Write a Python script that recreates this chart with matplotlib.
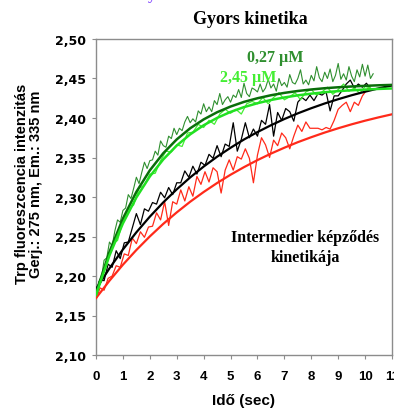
import numpy as np
import matplotlib
matplotlib.use("Agg")
import matplotlib.pyplot as plt

# ---------------- data ----------------
title = "Gyors kinetika"
x_label = "Idő (sec)"
y_label = "Trp fluoreszcencia intenzitás\nGerj.: 275 nm, Em.: 335 nm"
label_027 = "0,27 µM"
label_245 = "2,45 µM"
note = "Intermedier képződés\nkinetikája"

x_ticks = list(range(0, 12))
y_ticks = [2.10, 2.15, 2.20, 2.25, 2.30, 2.35, 2.40, 2.45, 2.50]
y_tick_labels = ["2,10", "2,15", "2,20", "2,25", "2,30", "2,35", "2,40", "2,45", "2,50"]

# fitted curves, sampled every 0.5 s
fit_t = [0, 0.5, 1, 1.5, 2, 2.5, 3, 3.5, 4, 4.5, 5, 5.5, 6, 6.5, 7, 7.5, 8, 8.5,
         9, 9.5, 10, 10.5, 11]
fit_dark_green = [2.178, 2.2305, 2.2727, 2.3065, 2.3337, 2.3554, 2.3729, 2.3870,
                  2.3982, 2.4073, 2.4145, 2.4204, 2.4250, 2.4288, 2.4318, 2.4342,
                  2.4361, 2.4377, 2.4389, 2.4399, 2.4407, 2.4414, 2.4419]
fit_light_green = [2.176, 2.2260, 2.2666, 2.2994, 2.3260, 2.3476, 2.3651, 2.3793,
                   2.3908, 2.4001, 2.4077, 2.4138, 2.4187, 2.4228, 2.4260, 2.4287,
                   2.4308, 2.4326, 2.4340, 2.4351, 2.4360, 2.4368, 2.4374]
fit_black = [2.1835, 2.2097, 2.2336, 2.2553, 2.2751, 2.2932, 2.3097, 2.3248,
             2.3385, 2.3510, 2.3623, 2.3728, 2.3822, 2.3908, 2.3987, 2.4059,
             2.4124, 2.4184, 2.4238, 2.4288, 2.4333, 2.4375, 2.4412]
fit_red = [2.172, 2.1940, 2.2143, 2.2329, 2.2501, 2.2660, 2.2805, 2.2940,
           2.3063, 2.3177, 2.3282, 2.3378, 2.3467, 2.3549, 2.3624, 2.3694,
           2.3757, 2.3816, 2.3870, 2.3920, 2.3966, 2.4008, 2.4047]

# measured traces
# 0.27 uM (dark green), every 0.1 s from 0 to 10.3 s
trace_dark_green = [
    2.172, 2.193, 2.197, 2.220, 2.223, 2.243, 2.238, 2.257, 2.271, 2.268,
    2.283, 2.286, 2.303, 2.298, 2.311, 2.325, 2.317, 2.331, 2.344, 2.336,
    2.346, 2.347, 2.358, 2.353, 2.371, 2.365, 2.363, 2.377, 2.374, 2.387,
    2.379, 2.387, 2.384, 2.395, 2.402, 2.394, 2.399, 2.395, 2.409, 2.405,
    2.418, 2.408, 2.414, 2.408, 2.422, 2.417, 2.431, 2.417, 2.423, 2.427,
    2.420, 2.429, 2.426, 2.436, 2.426, 2.444, 2.431, 2.427, 2.438, 2.436,
    2.433, 2.443, 2.433, 2.438, 2.449, 2.438, 2.443, 2.434, 2.450, 2.441,
    2.445, 2.439, 2.455, 2.445, 2.443, 2.450, 2.461, 2.443, 2.448, 2.442,
    2.454, 2.447, 2.465, 2.451, 2.446, 2.458, 2.450, 2.462, 2.446, 2.454,
    2.469, 2.449, 2.456, 2.448, 2.465, 2.453, 2.446, 2.461, 2.452, 2.468,
    2.453, 2.467, 2.450, 2.456]
# 2.45 uM (light green), every 0.2 s from 0 to 10.2 s
trace_light_green = [
    2.172, 2.200, 2.215, 2.240, 2.245, 2.269, 2.284, 2.290, 2.311, 2.315,
    2.329, 2.330, 2.346, 2.358, 2.357, 2.366, 2.364, 2.381, 2.382, 2.392,
    2.388, 2.397, 2.392, 2.405, 2.411, 2.406, 2.411, 2.405, 2.418, 2.421,
    2.418, 2.426, 2.418, 2.426, 2.432, 2.423, 2.427, 2.432, 2.423, 2.433,
    2.436, 2.429, 2.433, 2.439, 2.430, 2.436, 2.443, 2.434, 2.438, 2.431,
    2.440, 2.438]
# black trace, every 0.15 s from 0 to 10.2 s
trace_black = [
    2.176, 2.196, 2.194, 2.215, 2.211, 2.232, 2.222, 2.242, 2.243, 2.261,
    2.279, 2.265, 2.285, 2.282, 2.293, 2.291, 2.306, 2.299, 2.312, 2.303,
    2.318, 2.318, 2.333, 2.325, 2.339, 2.329, 2.344, 2.340, 2.354, 2.349,
    2.365, 2.351, 2.367, 2.364, 2.394, 2.358, 2.373, 2.394, 2.375, 2.386,
    2.377, 2.397, 2.392, 2.417, 2.377, 2.407, 2.397, 2.412, 2.408, 2.396,
    2.420, 2.426, 2.422, 2.429, 2.422, 2.431, 2.429, 2.433, 2.409, 2.428,
    2.428, 2.435, 2.443, 2.448, 2.438, 2.443, 2.439, 2.444, 2.437]
# red trace, every 0.15 s from 0 to 10.2 s
trace_red = [
    2.170, 2.185, 2.182, 2.197, 2.200, 2.213, 2.211, 2.228, 2.226, 2.248,
    2.241, 2.256, 2.249, 2.262, 2.263, 2.280, 2.271, 2.294, 2.264, 2.294,
    2.291, 2.309, 2.295, 2.313, 2.301, 2.326, 2.316, 2.332, 2.319, 2.337,
    2.332, 2.305, 2.334, 2.347, 2.334, 2.351, 2.348, 2.361, 2.349, 2.318,
    2.353, 2.375, 2.366, 2.350, 2.372, 2.365, 2.381, 2.375, 2.361, 2.377,
    2.391, 2.383, 2.395, 2.387, 2.387, 2.387, 2.385, 2.388, 2.386, 2.397,
    2.411, 2.416, 2.420, 2.408, 2.420, 2.416, 2.428, 2.435, 2.441]

t_dark_green = np.round(np.arange(len(trace_dark_green)) * 0.1, 3)
t_light_green = np.round(np.arange(len(trace_light_green)) * 0.2, 3)
t_black = np.round(np.arange(len(trace_black)) * 0.15, 3)
t_red = np.round(np.arange(len(trace_red)) * 0.15, 3)

# ---------------- styles ----------------
C_DG_TRACE = "#2f8f2f"
C_DG_FIT = "#0a6e0a"
C_LG = "#22e022"
C_LG_TRACE = "#44ee33"
C_RED = "#ff2a1a"
C_SPINE = "#8c8c8c"
SANS = ["Liberation Sans", "DejaVu Sans"]
WIDE = ["DejaVu Sans"]
SERIF = ["Liberation Serif", "DejaVu Serif"]

fig = plt.figure(figsize=(3.94, 4.10), dpi=100)
ax = fig.add_axes([96 / 394, 54 / 410, 296 / 394, 316 / 410])

ax.plot(t_red, trace_red, color=C_RED, lw=0.9, zorder=2)
ax.plot(t_black, trace_black, color="black", lw=0.9, zorder=2)
ax.plot(t_dark_green, trace_dark_green, color=C_DG_TRACE, lw=0.8, zorder=3)
ax.plot(t_light_green, trace_light_green, color=C_LG_TRACE, lw=0.9, zorder=3)

ax.plot(fit_t, fit_red, color=C_RED, lw=1.6, zorder=4)
ax.plot(fit_t, fit_black, color="black", lw=1.6, zorder=4)
ax.plot(fit_t, fit_dark_green, color=C_DG_FIT, lw=1.8, zorder=5)
ax.plot(fit_t, fit_light_green, color=C_LG, lw=1.8, zorder=5)

ax.set_xlim(0, 11)
ax.set_ylim(2.10, 2.50)
ax.set_xticks(x_ticks)
ax.set_xticklabels([str(v) for v in x_ticks], fontfamily=SANS, fontweight="bold", fontsize=9.5)
ax.set_yticks(y_ticks)
ax.set_yticklabels(y_tick_labels, fontfamily=WIDE, fontweight="bold", fontsize=9)
ax.tick_params(axis="both", direction="out", length=3, width=0.8, color=C_SPINE)
ax.tick_params(axis="x", pad=8)
ax.tick_params(axis="y", pad=4)
for s in ax.spines.values():
    s.set_color(C_SPINE)
    s.set_linewidth(1.0)
for lbl in ax.get_xticklabels():
    lbl.set_clip_on(False)

fig.text(250 / 394, 1 - 20 / 410, title, ha="center", va="center",
         fontfamily=SERIF, fontweight="bold", fontsize=13)
fig.text(152 / 394, 1.0, "y", ha="center", va="baseline", color="#7a3cff",
         fontfamily=SERIF, fontweight="bold", fontsize=11)
ax.text(6.67, 2.477, label_027, ha="center", va="center", color=C_DG_TRACE,
        fontfamily=SERIF, fontweight="bold", fontsize=11.5)
ax.text(5.67, 2.452, label_245, ha="center", va="center", color=C_LG_TRACE,
        fontfamily=SERIF, fontweight="bold", fontsize=11.5)
ax.text(7.77, 2.2367, note, ha="center", va="center", color="black",
        fontfamily=SERIF, fontweight="bold", fontsize=11.5, linespacing=1.3)

fig.text(244 / 394, 8.5 / 410, x_label, ha="center", va="center",
         fontfamily=SANS, fontweight="bold", fontsize=11)
fig.text(29 / 394, 1 - 184 / 410, y_label, ha="center", va="center", rotation=90,
         fontfamily=SANS, fontweight="bold", fontsize=10.5, linespacing=0.95,
         multialignment="center")

fig.savefig("out.png", dpi=100)
